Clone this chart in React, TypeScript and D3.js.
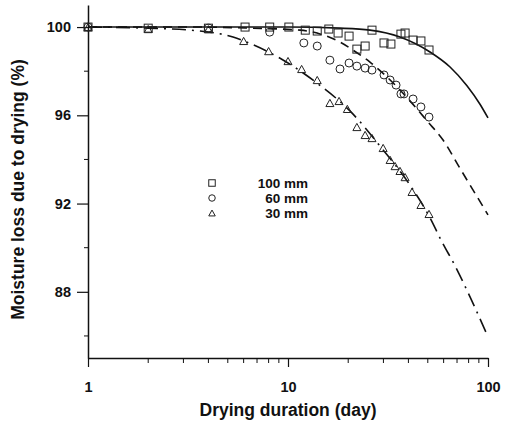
import React, { useRef, useEffect } from 'react';
import * as d3 from 'd3';

// ─── data ────────────────────────────────────────────────────

// 100 mm (squares)
const days100  = [1, 2, 4, 6.1, 8.1, 10.1, 12.2, 14.0, 16.0, 17.8, 20.2, 22.1, 24.3, 26.3, 30.2, 32.7, 36.7, 38.5, 42.2, 46.2, 50.7];
const moist100 = [100, 99.95, 99.95, 100, 100, 100, 99.86, 99.82, 99.91, 99.73, 99.59, 99.0, 99.14, 99.86, 99.28, 99.23, 99.68, 99.73, 99.41, 99.37, 98.96];

// 60 mm (circles)
const days60  = [1, 4, 8.1, 12.0, 14.0, 16.2, 18.2, 20.2, 22.1, 24.3, 26.3, 30.2, 32.4, 34.7, 36.7, 38.0, 42.2, 46.2, 50.7];
const moist60 = [100, 99.95, 99.77, 99.28, 99.14, 98.5, 98.1, 98.37, 98.23, 98.14, 98.05, 97.83, 97.6, 97.37, 96.97, 96.97, 96.74, 96.38, 95.92];

// 30 mm (triangles)
const days30  = [1, 2, 4, 6.0, 8.0, 10.0, 11.7, 14.0, 16.2, 18.0, 19.8, 22.1, 24.3, 26.3, 29.9, 32.4, 34.3, 36.3, 38.5, 41.7, 46.2, 50.7];
const moist30 = [100, 99.91, 99.9, 99.37, 98.91, 98.46, 98.1, 97.6, 96.56, 96.65, 96.29, 95.47, 95.11, 94.97, 94.52, 93.98, 93.7, 93.48, 93.2, 92.53, 91.94, 91.53];

// fitted curves
const fitDays100 = [1, 10, 18.2, 25.7, 36.3, 51.3, 64.6, 78.5, 91.2, 100];
const fit100     = [100, 100, 99.95, 99.86, 99.55, 98.87, 98.19, 97.34, 96.5, 95.88];

const fitDays60 = [1, 3.63, 6.46, 11.5, 15.0, 18.2, 21.1, 25.7, 36.3, 50.1, 59.6, 72.4, 84.1, 100];
const fit60     = [100, 100, 99.95, 99.86, 99.64, 99.32, 98.96, 98.41, 97.15, 95.7, 94.88, 93.6, 92.62, 91.49];

const fitDays30 = [1, 2, 3.63, 5.31, 6.68, 9.44, 13.96, 20.4, 29.9, 40.7, 50.7, 58.9, 68.4, 81.3, 100];
const fit30     = [100, 99.95, 99.82, 99.55, 99.2, 98.51, 97.46, 96.2, 94.43, 92.84, 91.44, 90.26, 89.18, 87.77, 85.96];

const yMajor = [88, 92, 96, 100];
const yMinor = [86, 90, 94, 98];
const xMajor = [1, 10, 100];
const xMinor = [2, 3, 4, 5, 6, 7, 8, 9, 20, 30, 40, 50, 60, 70, 80, 90];

const legendLabels = ['100 mm', '60 mm', '30 mm'];

const FONT = '"Liberation Sans", Arial, Helvetica, sans-serif';

type Shape = 'square' | 'circle' | 'triangle';

function drawMarker(
  g: d3.Selection<SVGGElement, unknown, null, undefined>,
  shape: Shape, cx: number, cy: number, s: number
) {
  if (shape === 'square') {
    g.append('rect')
      .attr('x', cx - s / 2).attr('y', cy - s / 2)
      .attr('width', s).attr('height', s)
      .attr('fill', 'none').attr('stroke', '#222').attr('stroke-width', 1);
  } else if (shape === 'circle') {
    g.append('circle')
      .attr('cx', cx).attr('cy', cy).attr('r', s / 2)
      .attr('fill', 'none').attr('stroke', '#222').attr('stroke-width', 1);
  } else {
    const h = s * 0.9;
    g.append('path')
      .attr('d', `M${cx},${cy - h / 2}L${cx + s / 2},${cy + h / 2}L${cx - s / 2},${cy + h / 2}Z`)
      .attr('fill', 'none').attr('stroke', '#222').attr('stroke-width', 1);
  }
}

const App: React.FC = () => {
  const svgRef = useRef<SVGSVGElement>(null);

  useEffect(() => {
    if (!svgRef.current) return;
    const svg = d3.select(svgRef.current);
    svg.selectAll('*').remove();

    const x = d3.scaleLog().domain([1, 100]).range([88, 488]);
    const y = d3.scaleLinear().domain([85, 101]).range([358, 5]);

    const root = svg.append('g') as unknown as d3.Selection<SVGGElement, unknown, null, undefined>;

    // ─── axes ───
    const yAx = root.append('g')
      .attr('transform', `translate(${x(1)},0)`)
      .call(d3.axisLeft(y).tickValues(yMajor).tickSize(11).tickSizeOuter(0).tickPadding(6));
    const xAx = root.append('g')
      .attr('transform', `translate(0,${y(85)})`)
      .call(d3.axisBottom(x).tickValues(xMajor).tickSize(9).tickSizeOuter(0).tickPadding(15)
        .tickFormat(d3.format('d') as any));

    [yAx, xAx].forEach(a => {
      a.select('.domain').attr('stroke', '#111').attr('stroke-width', 1.5);
      a.selectAll('.tick line').attr('stroke', '#111').attr('stroke-width', 1.2);
      a.selectAll('.tick text')
        .attr('fill', '#111').attr('font-size', 14.5).attr('font-weight', 'bold')
        .attr('font-family', FONT);
    });

    yMinor.forEach(v => {
      root.append('line')
        .attr('x1', x(1) - 4).attr('x2', x(1))
        .attr('y1', y(v)).attr('y2', y(v))
        .attr('stroke', '#111').attr('stroke-width', 1);
    });
    xMinor.forEach(v => {
      root.append('line')
        .attr('x1', x(v)).attr('x2', x(v))
        .attr('y1', y(85)).attr('y2', y(85) + 5)
        .attr('stroke', '#111').attr('stroke-width', 1);
    });

    // ─── axis titles ───
    root.append('text')
      .attr('transform', `translate(24,${(y(101) + y(85)) / 2 + 8}) rotate(-90)`)
      .attr('text-anchor', 'middle')
      .attr('font-family', FONT).attr('font-size', 17.5).attr('font-weight', 'bold')
      .attr('fill', '#111')
      .text('Moisture loss due to drying (%)');

    root.append('text')
      .attr('x', x(10)).attr('y', 416)
      .attr('text-anchor', 'middle')
      .attr('font-family', FONT).attr('font-size', 17.5).attr('font-weight', 'bold')
      .attr('fill', '#111')
      .text('Drying duration (day)');

    // ─── fitted curves ───
    const line = d3.line<[number, number]>()
      .x(d => x(d[0])).y(d => y(d[1]))
      .curve(d3.curveMonotoneX);

    const curves = [
      { dx: fitDays100, dy: fit100, dash: null },
      { dx: fitDays60,  dy: fit60,  dash: '9,6' },
      { dx: fitDays30,  dy: fit30,  dash: '14,6,2,6' },
    ];
    curves.forEach(c => {
      root.append('path')
        .attr('d', line(c.dx.map((d, i) => [d, c.dy[i]] as [number, number])) ?? '')
        .attr('fill', 'none')
        .attr('stroke', '#111')
        .attr('stroke-width', 1.6)
        .attr('stroke-dasharray', c.dash);
    });

    // ─── data points ───
    const series: { dx: number[]; dy: number[]; shape: Shape; size: number }[] = [
      { dx: days100, dy: moist100, shape: 'square',   size: 8 },
      { dx: days60,  dy: moist60,  shape: 'circle',   size: 8 },
      { dx: days30,  dy: moist30,  shape: 'triangle', size: 8 },
    ];
    series.forEach(s => {
      s.dx.forEach((d, i) => drawMarker(root, s.shape, x(d), y(s.dy[i]), s.size));
    });

    // ─── legend ───
    series.forEach((s, i) => {
      const ly = 183 + i * 15;
      drawMarker(root, s.shape, 212, ly, 6.5);
      root.append('text')
        .attr('x', 308).attr('y', ly + 5)
        .attr('text-anchor', 'end')
        .attr('font-family', FONT).attr('font-size', 13.5).attr('font-weight', 'bold')
        .attr('fill', '#111')
        .text(legendLabels[i]);
    });
  }, []);

  return (
    <svg
      ref={svgRef}
      width={508}
      height={421}
      style={{ position: 'absolute', left: 0, top: 0, background: '#fff', display: 'block' }}
    />
  );
};

export default App;
